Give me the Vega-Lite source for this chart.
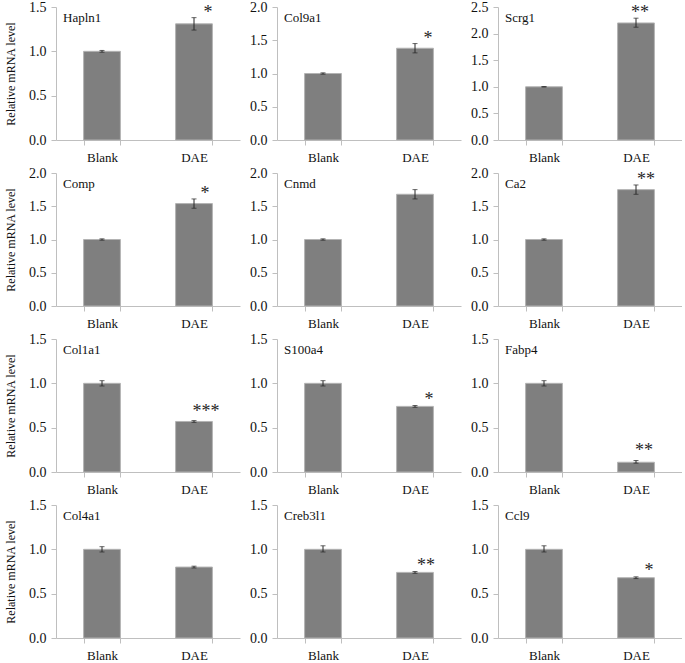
{
"$schema": "https://vega.github.io/schema/vega-lite/v6.json",
"padding": {"left": 4, "top": 0, "right": 0, "bottom": 0},
"data": {"values": [
{"gene":"Hapln1","group":"Blank","mean":1.00,"lo":0.99,"hi":1.01,"sig":""},
{"gene":"Hapln1","group":"DAE","mean":1.31,"lo":1.24,"hi":1.38,"sig":"*"},
{"gene":"Col9a1","group":"Blank","mean":1.00,"lo":0.99,"hi":1.01,"sig":""},
{"gene":"Col9a1","group":"DAE","mean":1.38,"lo":1.31,"hi":1.45,"sig":"*"},
{"gene":"Scrg1","group":"Blank","mean":1.00,"lo":0.995,"hi":1.005,"sig":""},
{"gene":"Scrg1","group":"DAE","mean":2.20,"lo":2.12,"hi":2.29,"sig":"**"},
{"gene":"Comp","group":"Blank","mean":1.00,"lo":0.99,"hi":1.01,"sig":""},
{"gene":"Comp","group":"DAE","mean":1.54,"lo":1.47,"hi":1.61,"sig":"*"},
{"gene":"Cnmd","group":"Blank","mean":1.00,"lo":0.99,"hi":1.01,"sig":""},
{"gene":"Cnmd","group":"DAE","mean":1.68,"lo":1.61,"hi":1.75,"sig":""},
{"gene":"Ca2","group":"Blank","mean":1.00,"lo":0.99,"hi":1.01,"sig":""},
{"gene":"Ca2","group":"DAE","mean":1.75,"lo":1.68,"hi":1.82,"sig":"**"},
{"gene":"Col1a1","group":"Blank","mean":1.00,"lo":0.97,"hi":1.03,"sig":""},
{"gene":"Col1a1","group":"DAE","mean":0.57,"lo":0.56,"hi":0.58,"sig":"***"},
{"gene":"S100a4","group":"Blank","mean":1.00,"lo":0.97,"hi":1.03,"sig":""},
{"gene":"S100a4","group":"DAE","mean":0.74,"lo":0.73,"hi":0.75,"sig":"*"},
{"gene":"Fabp4","group":"Blank","mean":1.00,"lo":0.97,"hi":1.03,"sig":""},
{"gene":"Fabp4","group":"DAE","mean":0.11,"lo":0.10,"hi":0.13,"sig":"**"},
{"gene":"Col4a1","group":"Blank","mean":1.00,"lo":0.97,"hi":1.03,"sig":""},
{"gene":"Col4a1","group":"DAE","mean":0.80,"lo":0.79,"hi":0.81,"sig":""},
{"gene":"Creb3l1","group":"Blank","mean":1.00,"lo":0.97,"hi":1.04,"sig":""},
{"gene":"Creb3l1","group":"DAE","mean":0.74,"lo":0.73,"hi":0.75,"sig":"**"},
{"gene":"Ccl9","group":"Blank","mean":1.00,"lo":0.97,"hi":1.04,"sig":""},
{"gene":"Ccl9","group":"DAE","mean":0.68,"lo":0.67,"hi":0.69,"sig":"*"}
]},
"columns": 3,
"spacing": {"row": 2, "column": 9},
"concat": [
{"width":184,"height":133,"title":{"text":"Hapln1"},"transform":[{"filter":"datum.gene === 'Hapln1'"}],
 "encoding":{"x":{"field":"group","type":"nominal","sort":["Blank","DAE"],"scale":{"paddingInner":0.6,"paddingOuter":0.3},"title":null}},
 "layer":[
  {"mark":{"type":"bar","color":"#7f7f7f","stroke":"#b3b3b3","strokeWidth":1},"encoding":{"y":{"field":"mean","type":"quantitative","title":"Relative mRNA level","scale":{"domain":[0,1.5],"nice":false},"axis":{"values":[0,0.5,1,1.5],"tickCount":10}}}},
  {"mark":{"type":"errorbar","color":"#262626","ticks":{"size":5}},"encoding":{"y":{"field":"lo","type":"quantitative","title":"Relative mRNA level"},"y2":{"field":"hi"}}},
  {"transform":[{"filter":"datum.sig !== ''"}],"mark":{"type":"text","dx":14},"encoding":{"y":{"field":"hi","type":"quantitative","title":"Relative mRNA level"},"text":{"field":"sig"}}}
 ]},
{"width":184,"height":133,"title":{"text":"Col9a1"},"transform":[{"filter":"datum.gene === 'Col9a1'"}],
 "encoding":{"x":{"field":"group","type":"nominal","sort":["Blank","DAE"],"scale":{"paddingInner":0.6,"paddingOuter":0.3},"title":null}},
 "layer":[
  {"mark":{"type":"bar","color":"#7f7f7f","stroke":"#b3b3b3","strokeWidth":1},"encoding":{"y":{"field":"mean","type":"quantitative","title":null,"scale":{"domain":[0,2],"nice":false},"axis":{"values":[0,0.5,1,1.5,2],"tickCount":10}}}},
  {"mark":{"type":"errorbar","color":"#262626","ticks":{"size":5}},"encoding":{"y":{"field":"lo","type":"quantitative","title":null},"y2":{"field":"hi"}}},
  {"transform":[{"filter":"datum.sig !== ''"}],"mark":{"type":"text","dx":13},"encoding":{"y":{"field":"hi","type":"quantitative","title":null},"text":{"field":"sig"}}}
 ]},
{"width":184,"height":133,"title":{"text":"Scrg1"},"transform":[{"filter":"datum.gene === 'Scrg1'"}],
 "encoding":{"x":{"field":"group","type":"nominal","sort":["Blank","DAE"],"scale":{"paddingInner":0.6,"paddingOuter":0.3},"title":null}},
 "layer":[
  {"mark":{"type":"bar","color":"#7f7f7f","stroke":"#b3b3b3","strokeWidth":1},"encoding":{"y":{"field":"mean","type":"quantitative","title":null,"scale":{"domain":[0,2.5],"nice":false},"axis":{"values":[0,0.5,1,1.5,2,2.5],"tickCount":10}}}},
  {"mark":{"type":"errorbar","color":"#262626","ticks":{"size":5}},"encoding":{"y":{"field":"lo","type":"quantitative","title":null},"y2":{"field":"hi"}}},
  {"transform":[{"filter":"datum.sig !== ''"}],"mark":{"type":"text","dx":4},"encoding":{"y":{"field":"hi","type":"quantitative","title":null},"text":{"field":"sig"}}}
 ]},
{"width":184,"height":133,"title":{"text":"Comp"},"transform":[{"filter":"datum.gene === 'Comp'"}],
 "encoding":{"x":{"field":"group","type":"nominal","sort":["Blank","DAE"],"scale":{"paddingInner":0.6,"paddingOuter":0.3},"title":null}},
 "layer":[
  {"mark":{"type":"bar","color":"#7f7f7f","stroke":"#b3b3b3","strokeWidth":1},"encoding":{"y":{"field":"mean","type":"quantitative","title":"Relative mRNA level","scale":{"domain":[0,2],"nice":false},"axis":{"values":[0,0.5,1,1.5,2],"tickCount":10}}}},
  {"mark":{"type":"errorbar","color":"#262626","ticks":{"size":5}},"encoding":{"y":{"field":"lo","type":"quantitative","title":"Relative mRNA level"},"y2":{"field":"hi"}}},
  {"transform":[{"filter":"datum.sig !== ''"}],"mark":{"type":"text","dx":11},"encoding":{"y":{"field":"hi","type":"quantitative","title":"Relative mRNA level"},"text":{"field":"sig"}}}
 ]},
{"width":184,"height":133,"title":{"text":"Cnmd"},"transform":[{"filter":"datum.gene === 'Cnmd'"}],
 "encoding":{"x":{"field":"group","type":"nominal","sort":["Blank","DAE"],"scale":{"paddingInner":0.6,"paddingOuter":0.3},"title":null}},
 "layer":[
  {"mark":{"type":"bar","color":"#7f7f7f","stroke":"#b3b3b3","strokeWidth":1},"encoding":{"y":{"field":"mean","type":"quantitative","title":null,"scale":{"domain":[0,2],"nice":false},"axis":{"values":[0,0.5,1,1.5,2],"tickCount":10}}}},
  {"mark":{"type":"errorbar","color":"#262626","ticks":{"size":5}},"encoding":{"y":{"field":"lo","type":"quantitative","title":null},"y2":{"field":"hi"}}}
 ]},
{"width":184,"height":133,"title":{"text":"Ca2"},"transform":[{"filter":"datum.gene === 'Ca2'"}],
 "encoding":{"x":{"field":"group","type":"nominal","sort":["Blank","DAE"],"scale":{"paddingInner":0.6,"paddingOuter":0.3},"title":null}},
 "layer":[
  {"mark":{"type":"bar","color":"#7f7f7f","stroke":"#b3b3b3","strokeWidth":1},"encoding":{"y":{"field":"mean","type":"quantitative","title":null,"scale":{"domain":[0,2],"nice":false},"axis":{"values":[0,0.5,1,1.5,2],"tickCount":10}}}},
  {"mark":{"type":"errorbar","color":"#262626","ticks":{"size":5}},"encoding":{"y":{"field":"lo","type":"quantitative","title":null},"y2":{"field":"hi"}}},
  {"transform":[{"filter":"datum.sig !== ''"}],"mark":{"type":"text","dx":10},"encoding":{"y":{"field":"hi","type":"quantitative","title":null},"text":{"field":"sig"}}}
 ]},
{"width":184,"height":133,"title":{"text":"Col1a1"},"transform":[{"filter":"datum.gene === 'Col1a1'"}],
 "encoding":{"x":{"field":"group","type":"nominal","sort":["Blank","DAE"],"scale":{"paddingInner":0.6,"paddingOuter":0.3},"title":null}},
 "layer":[
  {"mark":{"type":"bar","color":"#7f7f7f","stroke":"#b3b3b3","strokeWidth":1},"encoding":{"y":{"field":"mean","type":"quantitative","title":"Relative mRNA level","scale":{"domain":[0,1.5],"nice":false},"axis":{"values":[0,0.5,1,1.5],"tickCount":10}}}},
  {"mark":{"type":"errorbar","color":"#262626","ticks":{"size":5}},"encoding":{"y":{"field":"lo","type":"quantitative","title":"Relative mRNA level"},"y2":{"field":"hi"}}},
  {"transform":[{"filter":"datum.sig !== ''"}],"mark":{"type":"text","dx":12,"dy":-4},"encoding":{"y":{"field":"hi","type":"quantitative","title":"Relative mRNA level"},"text":{"field":"sig"}}}
 ]},
{"width":184,"height":133,"title":{"text":"S100a4"},"transform":[{"filter":"datum.gene === 'S100a4'"}],
 "encoding":{"x":{"field":"group","type":"nominal","sort":["Blank","DAE"],"scale":{"paddingInner":0.6,"paddingOuter":0.3},"title":null}},
 "layer":[
  {"mark":{"type":"bar","color":"#7f7f7f","stroke":"#b3b3b3","strokeWidth":1},"encoding":{"y":{"field":"mean","type":"quantitative","title":null,"scale":{"domain":[0,1.5],"nice":false},"axis":{"values":[0,0.5,1,1.5],"tickCount":10}}}},
  {"mark":{"type":"errorbar","color":"#262626","ticks":{"size":5}},"encoding":{"y":{"field":"lo","type":"quantitative","title":null},"y2":{"field":"hi"}}},
  {"transform":[{"filter":"datum.sig !== ''"}],"mark":{"type":"text","dx":14,"dy":-1},"encoding":{"y":{"field":"hi","type":"quantitative","title":null},"text":{"field":"sig"}}}
 ]},
{"width":184,"height":133,"title":{"text":"Fabp4"},"transform":[{"filter":"datum.gene === 'Fabp4'"}],
 "encoding":{"x":{"field":"group","type":"nominal","sort":["Blank","DAE"],"scale":{"paddingInner":0.6,"paddingOuter":0.3},"title":null}},
 "layer":[
  {"mark":{"type":"bar","color":"#7f7f7f","stroke":"#b3b3b3","strokeWidth":1},"encoding":{"y":{"field":"mean","type":"quantitative","title":null,"scale":{"domain":[0,1.5],"nice":false},"axis":{"values":[0,0.5,1,1.5],"tickCount":10}}}},
  {"mark":{"type":"errorbar","color":"#262626","ticks":{"size":5}},"encoding":{"y":{"field":"lo","type":"quantitative","title":null},"y2":{"field":"hi"}}},
  {"transform":[{"filter":"datum.sig !== ''"}],"mark":{"type":"text","dx":8,"dy":-4},"encoding":{"y":{"field":"hi","type":"quantitative","title":null},"text":{"field":"sig"}}}
 ]},
{"width":184,"height":133,"title":{"text":"Col4a1"},"transform":[{"filter":"datum.gene === 'Col4a1'"}],
 "encoding":{"x":{"field":"group","type":"nominal","sort":["Blank","DAE"],"scale":{"paddingInner":0.6,"paddingOuter":0.3},"title":null}},
 "layer":[
  {"mark":{"type":"bar","color":"#7f7f7f","stroke":"#b3b3b3","strokeWidth":1},"encoding":{"y":{"field":"mean","type":"quantitative","title":"Relative mRNA level","scale":{"domain":[0,1.5],"nice":false},"axis":{"values":[0,0.5,1,1.5],"tickCount":10}}}},
  {"mark":{"type":"errorbar","color":"#262626","ticks":{"size":5}},"encoding":{"y":{"field":"lo","type":"quantitative","title":"Relative mRNA level"},"y2":{"field":"hi"}}}
 ]},
{"width":184,"height":133,"title":{"text":"Creb3l1"},"transform":[{"filter":"datum.gene === 'Creb3l1'"}],
 "encoding":{"x":{"field":"group","type":"nominal","sort":["Blank","DAE"],"scale":{"paddingInner":0.6,"paddingOuter":0.3},"title":null}},
 "layer":[
  {"mark":{"type":"bar","color":"#7f7f7f","stroke":"#b3b3b3","strokeWidth":1},"encoding":{"y":{"field":"mean","type":"quantitative","title":null,"scale":{"domain":[0,1.5],"nice":false},"axis":{"values":[0,0.5,1,1.5],"tickCount":10}}}},
  {"mark":{"type":"errorbar","color":"#262626","ticks":{"size":5}},"encoding":{"y":{"field":"lo","type":"quantitative","title":null},"y2":{"field":"hi"}}},
  {"transform":[{"filter":"datum.sig !== ''"}],"mark":{"type":"text","dx":11,"dy":-1},"encoding":{"y":{"field":"hi","type":"quantitative","title":null},"text":{"field":"sig"}}}
 ]},
{"width":184,"height":133,"title":{"text":"Ccl9"},"transform":[{"filter":"datum.gene === 'Ccl9'"}],
 "encoding":{"x":{"field":"group","type":"nominal","sort":["Blank","DAE"],"scale":{"paddingInner":0.6,"paddingOuter":0.3},"title":null}},
 "layer":[
  {"mark":{"type":"bar","color":"#7f7f7f","stroke":"#b3b3b3","strokeWidth":1},"encoding":{"y":{"field":"mean","type":"quantitative","title":null,"scale":{"domain":[0,1.5],"nice":false},"axis":{"values":[0,0.5,1,1.5],"tickCount":10}}}},
  {"mark":{"type":"errorbar","color":"#262626","ticks":{"size":5}},"encoding":{"y":{"field":"lo","type":"quantitative","title":null},"y2":{"field":"hi"}}},
  {"transform":[{"filter":"datum.sig !== ''"}],"mark":{"type":"text","dx":13,"dy":-1},"encoding":{"y":{"field":"hi","type":"quantitative","title":null},"text":{"field":"sig"}}}
 ]}
],
"config": {
 "font": "Liberation Serif, Times New Roman, serif",
 "view": {"stroke": null},
 "axis": {"domainColor":"#bfbfbf","tickColor":"#bfbfbf","labelColor":"#111111","grid":false,"titleFontWeight":"normal","titleFontSize":12,"titleColor":"#111111","tickSize":5,"labelFont":"Liberation Serif, Times New Roman, serif","titleFont":"Liberation Serif, Times New Roman, serif"},
 "axisX": {"labelAngle":0,"tickBand":"extent","labelFontSize":13,"labelPadding":6},
 "axisY": {"labelFontSize":14,"labelPadding":5,"format":".1f","titlePadding":11},
 "title": {"anchor":"start","frame":"group","orient":"top","offset":-25,"dx":7,"fontSize":13,"fontWeight":"normal","color":"#111111","baseline":"alphabetic","font":"Liberation Serif, Times New Roman, serif"},
 "text": {"color":"#262626","font":"Liberation Serif, Times New Roman, serif","fontSize":18,"baseline":"alphabetic","align":"center"}
}
}
